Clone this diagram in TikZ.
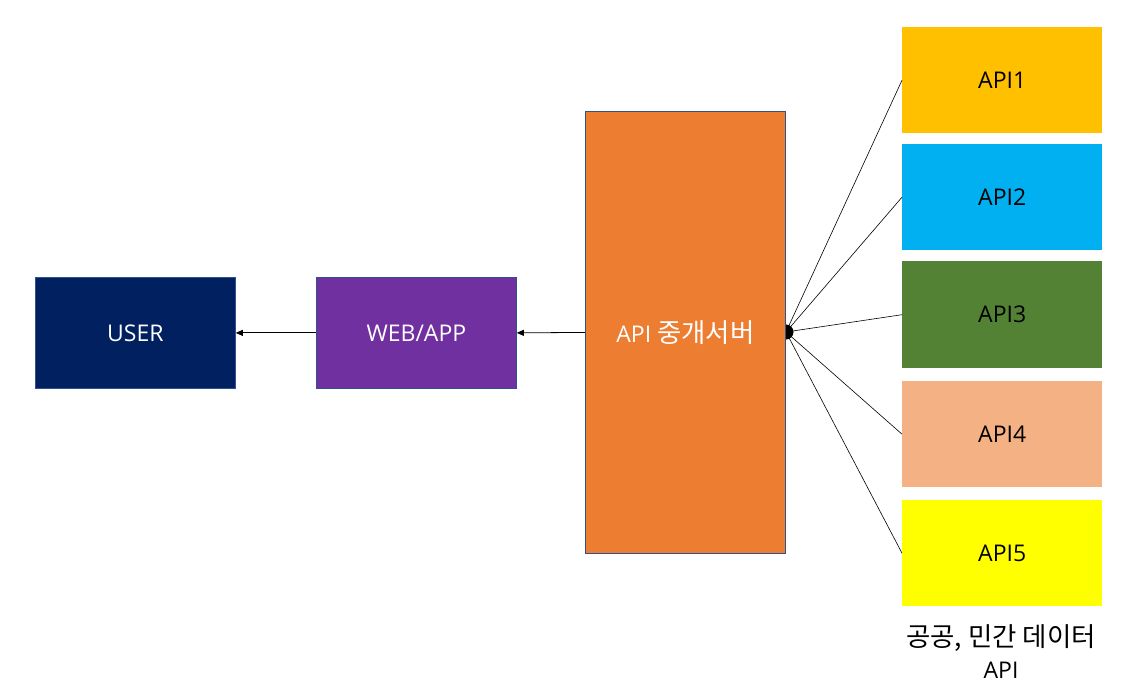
\documentclass[tikz,border=0pt]{standalone}
\usepackage{fontspec}
\setmainfont{Open Sans}
\newfontfamily\cjk{Noto Sans CJK KR}[Scale=1.15]
\usetikzlibrary{arrows.meta}
\begin{document}
\begin{tikzpicture}[x=1pt,y=-1pt,
  box/.style={draw=#1,line width=0.8pt,minimum width=200pt,minimum height=111pt,inner sep=0pt,font=\fontsize{23}{28}\selectfont,anchor=north west},
  apibox/.style={fill=#1,minimum width=200pt,minimum height=106pt,inner sep=0pt,font=\fontsize{23}{28}\selectfont,anchor=north west,text=black},
  arr/.style={-{Triangle[length=7pt,width=6pt]},line width=0.8pt},
  link/.style={line width=0.6pt}]
\useasboundingbox (0,0) rectangle (1137,692);
\definecolor{cuser}{HTML}{002060}
\definecolor{cweb}{HTML}{7030A0}
\definecolor{csrv}{HTML}{ED7D31}
\definecolor{cbord}{HTML}{2F528F}
\definecolor{ca1}{HTML}{FFC000}
\definecolor{ca2}{HTML}{00B0F0}
\definecolor{ca3}{HTML}{548235}
\definecolor{ca4}{HTML}{F4B183}
\definecolor{ca5}{HTML}{FFFF00}
\node[box=cbord,fill=cuser,text=white] (user) at (35,277) {USER};
\node[box=cbord,fill=cweb,text=white] (web) at (316,277) {WEB/APP};
\node[apibox=ca1] (a1) at (902,27) {API1};
\node[apibox=ca2] (a2) at (902,144) {API2};
\node[apibox=ca3,minimum height=107pt] (a3) at (902,261) {API3};
\node[apibox=ca4] (a4) at (902,381) {API4};
\node[apibox=ca5] (a5) at (902,500) {API5};
\node[font=\fontsize{23}{32}\selectfont,align=center,anchor=north,inner sep=0pt] (cap) at (1001,624) {{\cjk 공공, 민간 데이터}\\API};
\coordinate (j) at (786,332);
\foreach \a in {a1,a2,a3,a4,a5} \draw[link] (j) -- (\a.west);
\fill (j) circle (7.5pt);
\node[box=cbord,fill=csrv,text=white,minimum height=442pt] (srv) at (585,111) {API {\cjk 중개서버}};
\draw[arr] (srv.west) -- (web.east);
\draw[arr] (web.west) -- (user.east);
\end{tikzpicture}
\end{document}
